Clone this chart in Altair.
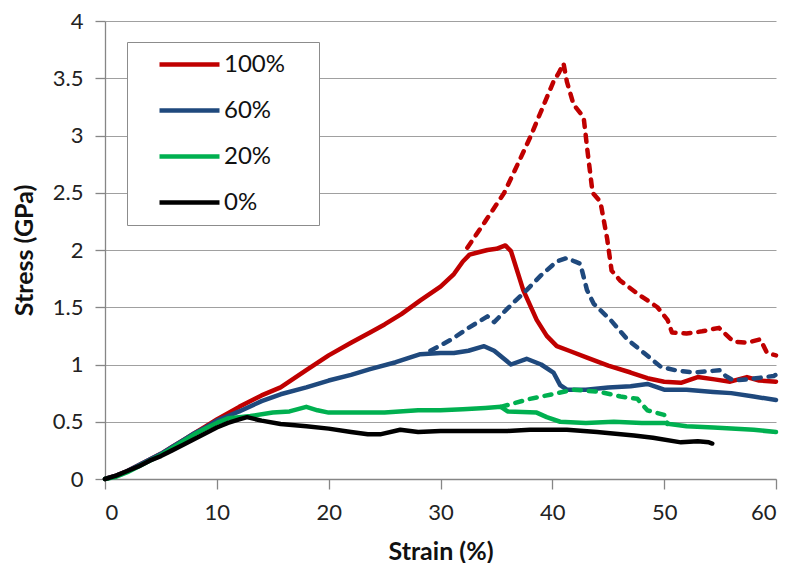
import altair as alt
import pandas as pd

# ---------------- data ----------------
series_names = ["100%", "60%", "20%", "0%"]
series_colors = ["#C00000", "#1F497D", "#00B050", "#000000"]

# 100% – solid
red_solid_x = [0, 1, 2, 3, 4, 5, 6, 7, 8, 9, 10, 12, 14, 15.7, 18, 20, 22, 23.7, 25, 26.5, 28.2, 30,
               31.2, 32, 32.6, 33.4, 34.2, 35, 35.8, 36.3, 37.4, 38.6, 39.5, 40.4, 41.5, 43.1, 45, 47,
               48.5, 50, 51.5, 53, 54.5, 55.9, 57.4, 58.5, 60]
red_solid_y = [0, 0.03, 0.07, 0.12, 0.17, 0.22, 0.28, 0.34, 0.40, 0.46, 0.52, 0.63, 0.73, 0.80, 0.95, 1.08, 1.19,
               1.28, 1.35, 1.44, 1.56, 1.68, 1.79, 1.90, 1.96, 1.98, 2.00, 2.01, 2.04, 1.99, 1.65, 1.39, 1.25,
               1.16, 1.12, 1.06, 0.99, 0.93, 0.88, 0.85, 0.84, 0.89, 0.87, 0.85, 0.89, 0.86, 0.85]
# 100% – dashed
red_dash_x = [32.4, 34, 35.7, 37.1, 38, 38.9, 40.1, 40.6, 41, 41.3, 41.9, 42.8, 43.1, 43.6, 44.3, 44.9, 45.3,
              46.1, 47.6, 49.4, 50.3, 50.7, 52, 53.4, 54.9, 56.2, 57.4, 58.6, 59.2, 60]
red_dash_y = [2.02, 2.25, 2.50, 2.79, 2.98, 3.19, 3.47, 3.55, 3.63, 3.47, 3.27, 3.16, 2.90, 2.50, 2.42, 2.10, 1.82,
              1.73, 1.62, 1.50, 1.39, 1.28, 1.27, 1.29, 1.32, 1.20, 1.19, 1.22, 1.10, 1.08]

# 60% – solid
blue_solid_x = [0, 1, 2, 3, 4, 5, 6, 7, 8, 9, 10, 11, 12, 14, 15.7, 18, 20, 22, 23.7, 26, 28.2, 30, 31.2, 32.5,
                33.9, 34.8, 36.3, 37.7, 39, 40.1, 40.7, 41.3, 43, 45, 47, 48.5, 50, 52, 54.4, 56, 58, 60]
blue_solid_y = [0, 0.03, 0.07, 0.12, 0.17, 0.22, 0.28, 0.34, 0.40, 0.45, 0.51, 0.55, 0.59, 0.68, 0.74, 0.80, 0.86,
                0.91, 0.96, 1.02, 1.09, 1.10, 1.10, 1.12, 1.16, 1.12, 1.00, 1.05, 1.00, 0.93, 0.82, 0.78, 0.78,
                0.80, 0.81, 0.83, 0.78, 0.78, 0.76, 0.75, 0.72, 0.69]
# 60% – dashed
blue_dash_x = [29.1, 31, 32.5, 34.2, 34.8, 36, 37.7, 39, 40.4, 41.3, 42, 42.5, 43.1, 43.7, 45.2, 46.7, 48.2,
               49.7, 51, 52.6, 55, 55.5, 56.2, 57.4, 59.8, 60]
blue_dash_y = [1.12, 1.22, 1.32, 1.42, 1.37, 1.49, 1.65, 1.78, 1.90, 1.93, 1.90, 1.88, 1.65, 1.53, 1.39, 1.22,
               1.10, 0.98, 0.95, 0.93, 0.95, 0.90, 0.86, 0.87, 0.90, 0.91]

# 20% – solid
green_solid_x = [0, 1, 2, 3, 4, 5, 6, 7, 8, 9, 10, 11, 12, 13, 15, 16.5, 18, 19, 20, 22, 25, 28, 30, 32, 34,
                 35.4, 36, 38.6, 39.5, 40.7, 43, 45.5, 48, 50, 50.5, 52, 54.4, 56, 58, 60]
green_solid_y = [0, 0.02, 0.06, 0.11, 0.16, 0.21, 0.27, 0.33, 0.39, 0.44, 0.49, 0.53, 0.54, 0.55, 0.58, 0.59,
                 0.63, 0.60, 0.58, 0.58, 0.58, 0.60, 0.60, 0.61, 0.62, 0.63, 0.59, 0.58, 0.54, 0.50, 0.49,
                 0.50, 0.49, 0.49, 0.48, 0.46, 0.45, 0.44, 0.43, 0.41]
# 20% – dashed
green_dash_x = [35.4, 36.5, 38, 40, 41.9, 44.3, 46.1, 47.6, 48.5, 50, 50.3]
green_dash_y = [0.63, 0.66, 0.70, 0.74, 0.78, 0.76, 0.72, 0.70, 0.60, 0.56, 0.48]

# 0% – solid
black_x = [0, 1, 2, 3, 4, 5, 6, 7, 8, 9, 10, 11, 12, 12.7, 14, 15.7, 18, 20, 22, 23.5, 24.6, 26.4, 28, 30,
           33.6, 36, 38, 41.3, 44, 47.3, 49, 51.5, 53, 54, 54.3]
black_y = [0, 0.03, 0.07, 0.11, 0.16, 0.20, 0.25, 0.30, 0.35, 0.40, 0.45, 0.49, 0.52, 0.54, 0.51, 0.48, 0.46,
           0.44, 0.41, 0.39, 0.39, 0.43, 0.41, 0.42, 0.42, 0.42, 0.43, 0.43, 0.41, 0.38, 0.36, 0.32, 0.33,
           0.32, 0.31]

x_ticks = [0, 10, 20, 30, 40, 50, 60]
y_ticks = [0, 0.5, 1, 1.5, 2, 2.5, 3, 3.5, 4]

# ---------------- build table ----------------
curves = [
    ("100%", "solid", red_solid_x, red_solid_y),
    ("100%", "dashed", red_dash_x, red_dash_y),
    ("60%", "solid", blue_solid_x, blue_solid_y),
    ("60%", "dashed", blue_dash_x, blue_dash_y),
    ("20%", "solid", green_solid_x, green_solid_y),
    ("20%", "dashed", green_dash_x, green_dash_y),
    ("0%", "solid", black_x, black_y),
]
rows = []
for k, (name, style, xs, ys) in enumerate(curves):
    for i, (x, y) in enumerate(zip(xs, ys)):
        rows.append({"curve": k, "series": name, "style": style, "strain": x, "stress": y, "i": i})
df = pd.DataFrame(rows)

FONT = "Lato"

x_enc = alt.X("strain:Q", title="Strain (%)",
              scale=alt.Scale(domain=[0, 60], nice=False, zero=False),
              axis=alt.Axis(values=x_ticks, grid=False, tickSize=10, labelPadding=13,
                            titleY=72, titleBaseline="middle"))
y_enc = alt.Y("stress:Q", title="Stress (GPa)",
              scale=alt.Scale(domain=[0, 4], nice=False),
              axis=alt.Axis(values=y_ticks, format="~g", grid=True, tickSize=10, labelPadding=12,
                            titleAngle=-90, titleX=-81, titleY=229, titleBaseline="middle",
                            titleAnchor="middle"))

legend = alt.Legend(orient="none", legendX=22, legendY=21,
                    title=" ", titleOrient="right", titlePadding=24, titleFontSize=22,
                    symbolType="M1,0H7", symbolSize=400, symbolStrokeWidth=4.5,
                    labelFont=FONT, labelFontSize=24, labelColor="#111111", labelOffset=62,
                    rowPadding=21, padding=10, fillColor="white", strokeColor="#8C8C8C")

layers = []
for k, (name, style, xs, ys) in enumerate(curves):
    if style == "dashed":
        mark_kw = dict(strokeWidth=4.5, strokeDash=[7, 8], strokeCap="round", strokeJoin="round")
    else:
        mark_kw = dict(strokeWidth=4.5, strokeJoin="round", strokeCap="round")
    color_kwargs = dict(scale=alt.Scale(domain=series_names, range=series_colors))
    if k == 0:
        color_kwargs["legend"] = legend
    layer = alt.Chart(df).mark_line(**mark_kw).encode(
        x=x_enc, y=y_enc,
        color=alt.Color("series:N", **color_kwargs),
        order=alt.Order("i:Q"),
    ).transform_filter(alt.datum.curve == k)
    layers.append(layer)

chart = alt.layer(*layers).properties(
    width=671, height=458,
    padding={"left": 97, "top": 13, "right": 8, "bottom": 84},
    autosize=alt.AutoSizeParams(type="none"),
).configure_view(stroke=None).configure_axis(
    labelFont=FONT, labelFontSize=22, labelColor="#222222",
    titleFont=FONT, titleFontSize=25, titleFontWeight="bold", titleColor="#111111",
    domainColor="#868686", tickColor="#868686", gridColor="#A0A0A0", gridWidth=1,
    domainWidth=1.3, tickWidth=1.3,
).configure_legend(titleFont=FONT)

chart.save("out.html", embed_options={"renderer": "svg", "actions": False})
